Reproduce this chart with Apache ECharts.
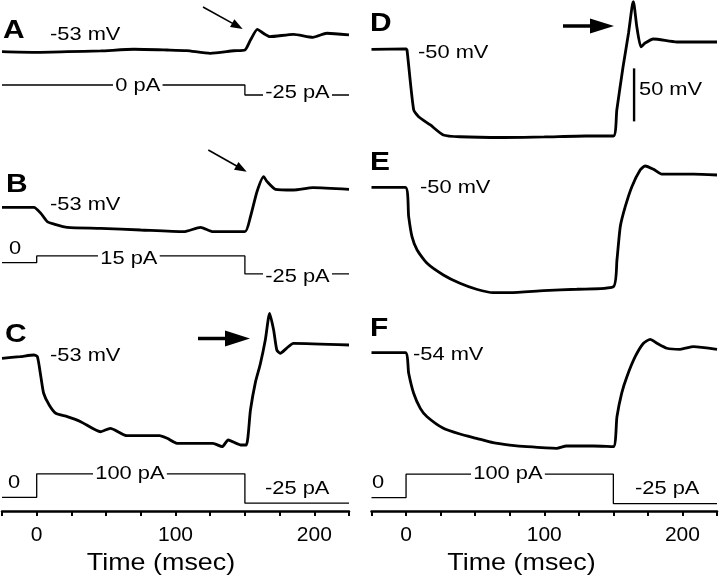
<!DOCTYPE html>
<html>
<head>
<meta charset="utf-8">
<script src="https://cdn.jsdelivr.net/npm/echarts@6/dist/echarts.min.js"></script>
<style>html,body{margin:0;padding:0;background:#fff}#c{width:720px;height:576px}</style>
</head>
<body>
<div id="c"></div>
<script>
// ---------- DATA ----------
// Time (msec) and membrane potential (mV)
const tA = [-25, -2, 22, 46, 70, 94, 108, 125, 142, 150, 154, 159, 163, 168, 185, 199, 209, 225];
const vA = [-53.0, -53.6, -53.0, -52.3, -50.7, -51.4, -52.0, -54.5, -52.1, -51.4, -42.0, -31.9, -35.4, -38.8, -36.6, -39.4, -35.6, -37.2];

const tB = [-25, -2, 3, 7.7, 12.5, 22, 46, 75, 106, 118, 127, 150, 154, 158.7, 163.5, 166, 172, 185, 199, 225];
const vB = [-53, -53, -58.7, -66.6, -68.8, -71.9, -72.8, -74.4, -76.0, -71.9, -76.0, -76.0, -61.9, -38.3, -24.1, -28.8, -36.0, -36.7, -34.5, -36.0];

const tC = [-25, -12, -2, 0.5, 3, 5, 9, 13.7, 22, 31.7, 46, 53, 65, 88.5, 94, 101, 127, 133.6, 138, 146.8, 151, 154, 157.6, 161, 164.7, 167.8, 170.7, 173, 175.5, 180, 185, 225];
const vC = [-54.2, -52.7, -51.1, -52.7, -71.6, -87.2, -98.3, -106.1, -109.3, -114.0, -123.5, -120.3, -127.2, -127.2, -129.7, -134.4, -134.4, -137.6, -131.3, -136.0, -136.0, -103.0, -76.7, -60.2, -37.0, -11.8, -27.5, -46.4, -49.5, -44.8, -40.1, -41.7];

const tD = [-25, 0, 0.7, 5.5, 9.1, 17.6, 27, 39, 70, 100, 130, 150, 152.5, 157, 161, 163.5, 164.5, 167, 170, 173, 179, 196, 225];
const vD = [-50, -49.7, -50.7, -107, -113.6, -121.4, -130.8, -132.5, -133.2, -132.7, -131.8, -131.8, -107.3, -66.7, -34.6, -10.1, -5.1, -29.0, -47.8, -44.1, -40.3, -43.1, -43.1];

const tE = [-25, -0.5, 1.9, 4.3, 8, 15.2, 27, 39, 51, 63, 75, 99.5, 123.6, 150, 152.6, 155, 158.6, 163.4, 169.4, 173, 179, 185, 208, 225];
const vE = [-50, -50, -77.7, -96.6, -109.2, -121.7, -132.7, -140.6, -146.2, -149.4, -149.4, -147.5, -146.2, -143.8, -118.6, -87.2, -68.3, -49.4, -33.7, -29.9, -33.0, -37.5, -37.5, -38.4];

const tF = [-25, -0.5, 1.9, 5.5, 10.3, 15.2, 27, 39, 51, 63, 75, 87.5, 109, 116, 135.6, 150, 152.6, 156, 159.8, 165.8, 171.8, 176.7, 181.5, 188.7, 198.3, 208, 225];
const vF = [-54, -54, -73.4, -92.3, -106.5, -114.4, -125.3, -130.7, -134.8, -138.9, -141.1, -142.7, -144.2, -142.0, -142.0, -142.7, -114.4, -92.3, -76.6, -57.8, -45.1, -41.4, -45.1, -49.8, -50.8, -48.3, -50.8];

// Injected current steps (pA)
const stepTimes = [-25, 0, 0, 150, 150, 225];
const iA = [0, 0, 0, 0, -25, -25];
const iB = [0, 0, 15, 15, -25, -25];
const iC = [0, 0, 100, 100, -25, -25];
const iF = [0, 0, 100, 100, -25, -25];

// Scale bar (panel D): time, top value (mV), length (mV)
const scaleBarT = 165;
const scaleBarTop = -68;
const scaleBarLen = 50;

// Axis ticks
const tickValues = [-25, 0, 25, 50, 75, 100, 125, 150, 175, 200, 225];
const labelValues = [0, 100, 200];

// ---------- LAYOUT ----------
const AXIS_Y = 511;          // pixel row of the time axis
const K = 1.06;              // px per mV
const zip = (t, v) => t.map((x, i) => [x, v[i]]);

// voltage panels: column, reference mV, pixel row of that reference
const vPanels = [
  {col: 0, t: tA, v: vA, ref: -53, y: 51.7},
  {col: 0, t: tB, v: vB, ref: -53, y: 207.3},
  {col: 0, t: tC, v: vC, ref: -53, y: 357},
  {col: 1, t: tD, v: vD, ref: -50, y: 49.3},
  {col: 1, t: tE, v: vE, ref: -50, y: 187.3},
  {col: 1, t: tF, v: vF, ref: -54, y: 352.7}
];
// current panels: column, pixel row of 0 pA, px per pA
const iPanels = [
  {col: 0, v: iA, y0: 85, s: 0.4},
  {col: 0, v: iB, y0: 262.7, s: 0.45},
  {col: 0, v: iC, y0: 497.3, s: 0.235},
  {col: 1, v: iF, y0: 497.7, s: 0.235}
];

const grids = [
  {left: 2, width: 347, top: 0, height: AXIS_Y, containLabel: false, outerBoundsMode: 'none'},
  {left: 371.5, width: 345.5, top: 0, height: AXIS_Y, containLabel: false, outerBoundsMode: 'none'}
];
const FONT = '"Liberation Sans", Arial, Helvetica, sans-serif';

const xAxes = [0, 1].map(g => ({
  type: 'value', gridIndex: g, min: -25, max: 225, interval: 25,
  axisLine: {show: true, onZero: false, lineStyle: {color: '#000', width: 2.5}},
  axisTick: {show: true, inside: false, length: 5, customValues: tickValues, lineStyle: {color: '#000', width: 2}},
  axisLabel: {show: true, customValues: labelValues, margin: 14, color: '#000', fontSize: 21, fontFamily: FONT},
  splitLine: {show: false}
}));

const yAxes = [];
const series = [];
vPanels.forEach(p => {
  const max = p.ref + p.y / K;
  const min = max - AXIS_Y / K;
  yAxes.push({type: 'value', gridIndex: p.col, show: false, min: min, max: max, splitLine: {show: false}});
  series.push({
    type: 'line', xAxisIndex: p.col, yAxisIndex: yAxes.length - 1,
    data: zip(p.t, p.v), showSymbol: false, smooth: 0.2, clip: false,
    lineStyle: {color: '#000', width: 2.8}, silent: true
  });
  if (p.t === tD) {
    series.push({
      type: 'line', xAxisIndex: p.col, yAxisIndex: yAxes.length - 1,
      data: [[scaleBarT, scaleBarTop], [scaleBarT, scaleBarTop - scaleBarLen]],
      showSymbol: false, clip: false, lineStyle: {color: '#000', width: 2.4}, silent: true
    });
  }
});
iPanels.forEach(p => {
  const max = p.y0 / p.s;
  const min = max - AXIS_Y / p.s;
  yAxes.push({type: 'value', gridIndex: p.col, show: false, min: min, max: max, splitLine: {show: false}});
  series.push({
    type: 'line', xAxisIndex: p.col, yAxisIndex: yAxes.length - 1,
    data: zip(stepTimes, p.v), showSymbol: false, clip: false,
    lineStyle: {color: '#000', width: 1.3}, silent: true
  });
});

// ---------- ANNOTATIONS ----------
function txt(str, x, y, o) {
  o = o || {};
  return {
    type: 'text', x: x, y: y, scaleX: o.sx || 1.15, z: 50,
    style: {
      text: str, fill: '#000',
      font: (o.bold ? 'bold ' : '') + (o.size || 19) + 'px ' + FONT,
      align: o.align || 'left', verticalAlign: 'middle',
      backgroundColor: o.bg ? '#fff' : null, padding: o.bg ? [1, 2] : 0
    }
  };
}
function arrow(x1, y1, x2, y2, w, hl, hw) {
  const dx = x2 - x1, dy = y2 - y1, L = Math.hypot(dx, dy);
  const ux = dx / L, uy = dy / L, px = -uy, py = ux;
  const bx = x2 - ux * hl, by = y2 - uy * hl;
  return [
    {type: 'polyline', z: 50, shape: {points: [[x1, y1], [bx + ux * 2, by + uy * 2]]}, style: {stroke: '#000', lineWidth: w, fill: null}},
    {type: 'polygon', z: 50, shape: {points: [[x2, y2], [bx + px * hw, by + py * hw], [bx - px * hw, by - py * hw]]}, style: {fill: '#000'}}
  ];
}
const L = {bold: true, size: 26, sx: 1.15};
const graphics = [
  txt('A', 3, 31, L), txt('-53 mV', 50, 35),
  txt('0 pA', 113, 86, {bg: true}), txt('-25 pA', 263, 93, {bg: true}),
  txt('B', 6, 185, L), txt('-53 mV', 50, 205),
  txt('0', 9, 249), txt('15 pA', 98, 258.5, {bg: true}), txt('-25 pA', 263, 277, {bg: true}),
  txt('C', 5, 335, L), txt('-53 mV', 50, 355.5),
  txt('0', 8, 483), txt('100 pA', 93, 473.5, {bg: true}), txt('-25 pA', 265, 489),
  txt('D', 370, 24, L), txt('-50 mV', 418, 53), txt('50 mV', 639, 89.5),
  txt('E', 370, 163, L), txt('-50 mV', 420, 187.5),
  txt('F', 370, 329, L), txt('-54 mV', 413, 355),
  txt('0', 372, 483), txt('100 pA', 471, 473.5, {bg: true}), txt('-25 pA', 635, 489),
  txt('Time (msec)', 161, 563, {size: 24, sx: 1.12, align: 'center'}),
  txt('Time (msec)', 521.5, 563, {size: 24, sx: 1.12, align: 'center'})
].concat(
  arrow(203, 7, 242.7, 29, 1.6, 12, 4.5),
  arrow(208.3, 150, 246.7, 171.7, 1.6, 12, 4.5),
  arrow(198, 338.5, 250, 338.5, 3.5, 25, 8),
  arrow(563, 26, 614, 26, 3.5, 24, 7.5)
);

const chart = echarts.init(document.getElementById('c'), null, {renderer: 'canvas'});
chart.setOption({
  animation: false,
  backgroundColor: '#fff',
  grid: grids,
  xAxis: xAxes,
  yAxis: yAxes,
  series: series,
  graphic: {elements: graphics}
});
</script>
</body>
</html>
